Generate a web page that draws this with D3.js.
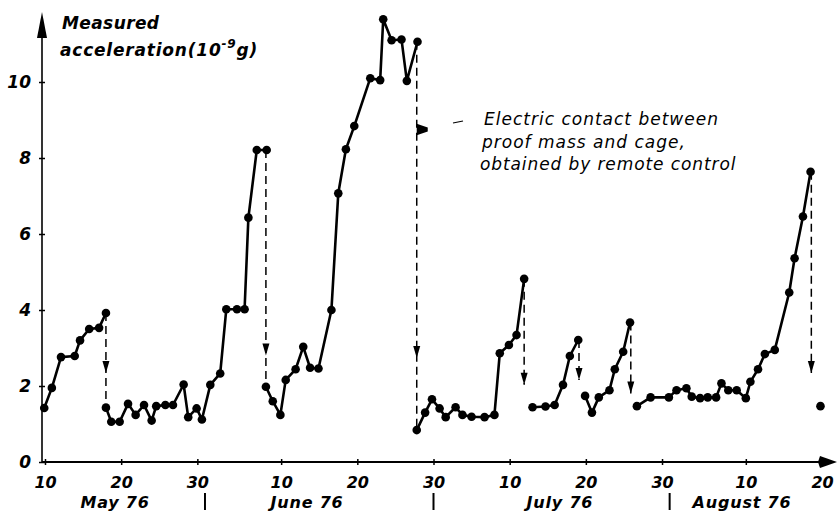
<!DOCTYPE html>
<html><head><meta charset="utf-8">
<script src="https://cdn.jsdelivr.net/npm/d3@7"></script>
<style>body{margin:0;background:#fff}svg text{font-family:"DejaVu Sans",sans-serif;fill:#000}</style>
</head><body><svg id="c" width="837" height="514"></svg>
<script>
// day index: 1 = May 1 1976 (June 10 = 41, July 10 = 71, Aug 10 = 102)
const seg1Days=[9.9,10.9,12.1,13.9,14.6,15.8,17.1,18.0];
const seg1Vals=[1.42,1.95,2.76,2.79,3.2,3.5,3.53,3.92];
const seg2Days=[18.0,18.7,19.8,20.9,21.9,23.0,24.0,24.6,25.8,26.8,28.2,28.8,29.9,30.6,31.7,33.0,33.8,35.2,36.2,36.7,37.8,39.1];
const seg2Vals=[1.43,1.06,1.06,1.53,1.24,1.5,1.09,1.47,1.5,1.5,2.04,1.18,1.41,1.12,2.03,2.33,4.02,4.02,4.02,6.43,8.21,8.21];
const seg3Days=[39.0,39.9,40.9,41.6,42.9,43.9,44.8,45.9,47.6,48.5,49.5,50.6,52.7,54.0,54.4,55.5,56.8,57.5,58.9];
const seg3Vals=[1.98,1.6,1.24,2.16,2.44,3.03,2.48,2.46,4.0,7.07,8.23,8.84,10.1,10.05,11.65,11.1,11.12,10.03,11.06];
const seg4Days=[58.8,59.9,60.8,61.8,62.6,63.9,64.8,66.0,67.7,69.0,69.7,70.9,71.9,72.9];
const seg4Vals=[0.84,1.3,1.65,1.41,1.18,1.44,1.24,1.19,1.18,1.24,2.86,3.08,3.34,4.82];
const seg5Days=[74.0,75.7,76.9,78.0,78.9,80.0];
const seg5Vals=[1.44,1.46,1.5,2.03,2.79,3.21];
const seg6Days=[80.9,81.8,82.7,84.1,84.8,85.9,86.8];
const seg6Vals=[1.74,1.3,1.7,1.89,2.44,2.9,3.67];
const seg7Days=[87.7,89.5,91.9,92.9,94.2,94.9,96.0,97.0,98.1,98.8,99.7,100.8,102.0,102.6,103.6,104.5,105.8,107.7,108.4,109.5,110.5];
const seg7Vals=[1.47,1.7,1.7,1.89,1.94,1.72,1.68,1.7,1.7,2.07,1.89,1.89,1.68,2.11,2.44,2.84,2.95,4.46,5.36,6.46,7.64];
const seg8Days=[111.8];
const seg8Vals=[1.47];
// electric contact events (dashed drops)
const dropDays=[18.0,39.0,58.8,72.9,80.1,86.9,110.6];
const dropFrom=[3.92,8.21,11.06,4.82,3.21,3.67,7.64];
const dropTo=[1.43,1.98,0.84,2.03,2.16,1.8,2.34];
const dropArrow=[2.34,2.8,2.74,2.03,2.16,1.8,2.34];
const xTickDays=[10,20,30,41,51,61,71,81,91,102,112];
const xTickLabels=["10","20","30","10","20","30","10","20","30","10","20"];
const yTicks=[0,2,4,6,8,10];
const monthNames=["May 76","June 76","July 76","August 76"];
const monthCenters=[19.2,44.4,77.6,101.5];
const monthEnds=[31,61,92];
const noteLines=["Electric contact between","proof mass and cage,","obtained by remote control"];

const svg=d3.select("#c");
const x=d3.scaleLinear().domain([10,112]).range([45,822]);
const y=d3.scaleLinear().domain([0,10]).range([462,82]);
const segments=[[seg1Days,seg1Vals],[seg2Days,seg2Vals],[seg3Days,seg3Vals],[seg4Days,seg4Vals],[seg5Days,seg5Vals],[seg6Days,seg6Vals],[seg7Days,seg7Vals],[seg8Days,seg8Vals]];

// axes lines
svg.append("line").attr("x1",42).attr("x2",42).attr("y1",463).attr("y2",30).attr("stroke","#000").attr("stroke-width",1.6);
svg.append("path").attr("d","M42,12 L37,38 L47,38 Z").attr("fill","#000");
svg.append("line").attr("x1",42).attr("x2",825).attr("y1",462).attr("y2",462).attr("stroke","#000").attr("stroke-width",1.8);
svg.append("path").attr("d","M837,462 L820,456 L818,462 L820,468 Z").attr("fill","#000");

const xAxis=svg.append("g").attr("transform","translate(0,462)")
 .call(d3.axisBottom(x).tickValues(xTickDays).tickFormat((d,i)=>xTickLabels[i]).tickSizeInner(3).tickSizeOuter(0).tickPadding(9));
xAxis.select(".domain").remove();
xAxis.selectAll(".tick line").attr("y1",-3).attr("y2",3).attr("stroke-width",1.5);
xAxis.selectAll(".tick text").attr("font-size",16).attr("font-weight","bold").attr("font-style","italic")
 .attr("font-family","DejaVu Sans").attr("dy","0.85em");

const yAxis=svg.append("g").attr("transform","translate(42,0)")
 .call(d3.axisLeft(y).tickValues(yTicks).tickSizeInner(3).tickSizeOuter(0).tickPadding(8));
yAxis.select(".domain").remove();
yAxis.selectAll(".tick line").attr("x1",-3).attr("x2",3).attr("stroke-width",1.5);
yAxis.selectAll(".tick text").attr("font-size",17).attr("font-weight","bold").attr("font-style","italic")
 .attr("font-family","DejaVu Sans");

// month labels
svg.selectAll("text.month").data(monthNames).join("text").attr("class","month")
 .attr("x",(d,i)=>x(monthCenters[i])).attr("y",508).attr("text-anchor","middle")
 .attr("font-size",16).attr("font-weight","bold").attr("font-style","italic").attr("letter-spacing",0.8).text(d=>d);
svg.selectAll("line.msep").data(monthEnds).join("line").attr("class","msep")
 .attr("x1",d=>x(d)).attr("x2",d=>x(d)).attr("y1",493).attr("y2",510).attr("stroke","#000").attr("stroke-width",2);

// y title
const t=svg.append("text").attr("font-size",17).attr("font-weight","bold").attr("font-style","italic").attr("letter-spacing",0.4);
t.append("tspan").attr("x",62).attr("y",29).text("Measured");
const t2=svg.append("text").attr("x",60).attr("y",56).attr("font-size",17).attr("font-weight","bold").attr("font-style","italic").attr("letter-spacing",0.8);
t2.append("tspan").text("acceleration(10");
t2.append("tspan").attr("dy",-8).attr("font-size",12).text("-9");
t2.append("tspan").attr("dy",8).text("g)");

// drops
const dg=svg.append("g");
dropDays.forEach((d,i)=>{
  dg.append("line").attr("x1",x(d)).attr("x2",x(d)).attr("y1",y(dropFrom[i])).attr("y2",y(dropTo[i]))
   .attr("stroke","#000").attr("stroke-width",1.5).attr("stroke-dasharray","8,5");
  const ax=x(d), ay=y(dropArrow[i]);
  dg.append("path").attr("d",`M${ax},${ay} L${ax-3.5},${ay-12} L${ax+3.5},${ay-12} Z`).attr("fill","#000");
});
// annotation pointer
svg.append("path").attr("d",`M${x(dropDays[2])},${y(8.9)} L${x(dropDays[2])+11},${y(8.8)} L${x(dropDays[2])+11},${y(8.7)} L${x(dropDays[2])},${y(8.6)} Z`).attr("fill","#000");
svg.append("line").attr("x1",453).attr("x2",463).attr("y1",123).attr("y2",121).attr("stroke","#000").attr("stroke-width",1.2);
svg.selectAll("text.note").data(noteLines).join("text").attr("class","note")
 .attr("x",(d,i)=>[484,482,480][i]).attr("y",(d,i)=>125+i*22.5)
 .attr("font-size",17).attr("font-style","italic").attr("letter-spacing",(d,i)=>[1,1,0.9][i]).text(d=>d);

// data lines and points
const line=d3.line().x(d=>x(d[0])).y(d=>y(d[1]));
segments.forEach(([ds,vs])=>{
  const pts=ds.map((d,i)=>[d,vs[i]]);
  svg.append("path").attr("d",line(pts)).attr("fill","none").attr("stroke","#000").attr("stroke-width",2.6).attr("stroke-linejoin","round");
  svg.append("g").selectAll("circle").data(pts).join("circle")
   .attr("cx",d=>x(d[0])).attr("cy",d=>y(d[1])).attr("r",4.3).attr("fill","#000");
});
</script></body></html>
